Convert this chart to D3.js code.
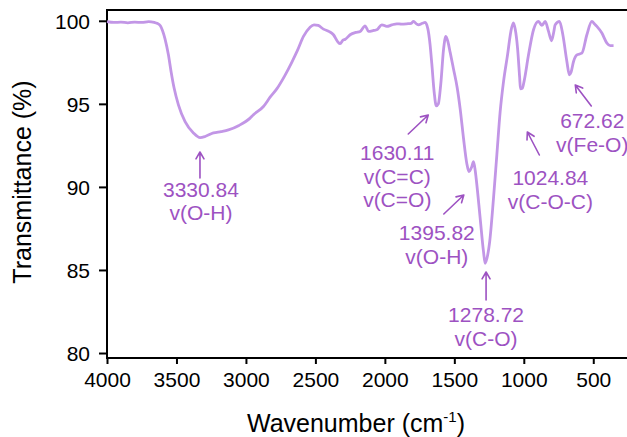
<!DOCTYPE html>
<html>
<head>
<meta charset="utf-8">
<script src="https://cdn.jsdelivr.net/npm/d3@7"></script>
<style>
  html, body { margin: 0; padding: 0; background: #fff; }
  svg { display: block; font-family: "Liberation Sans", Arial, Helvetica, sans-serif; }
</style>
</head>
<body>
<svg id="chart" width="627" height="437"></svg>
<script>
// ---- Data ----
const wavenumbers = [4000,3950,3900,3850,3800,3750,3700,3660,3640,3616,3600,3582,3558,3539,3517,3486,3438,3378,3330,3290,3234,3179,3126,3050,2970,2946,2874,2826,2778,2720,2670,2630,2586,2540,2510,2480,2442,2400,2370,2340,2322,2300,2286,2250,2210,2178,2142,2118,2080,2058,2022,1986,1950,1914,1880,1842,1810,1794,1770,1758,1730,1710,1690,1675,1662,1645,1630,1615,1597,1578,1561,1545,1530,1506,1480,1458,1434,1410,1395,1375,1362,1350,1343,1314,1290,1278,1260,1247,1218,1194,1170,1146,1117,1093,1075,1062,1045,1030,1024,1010,997,966,930,894,870,846,822,800,785,774,743,719,690,672,660,642,618,582,546,510,490,474,438,402,378,354];
const transmittance = [99.95,99.9,99.92,99.88,99.92,99.9,99.95,99.9,99.85,99.7,99.4,98.9,97.95,96.95,95.95,94.94,93.93,93.25,92.97,93.05,93.25,93.33,93.43,93.7,94.14,94.34,94.84,95.4,95.9,96.7,97.5,98.2,99.06,99.6,99.76,99.72,99.5,99.35,99.16,98.75,98.62,98.85,98.88,99.16,99.3,99.36,99.7,99.36,99.42,99.46,99.76,99.66,99.75,99.82,99.8,99.82,99.85,99.96,99.8,99.76,99.85,99.9,99.5,98.6,97.4,95.7,94.88,95.0,96.25,98.25,99.06,98.7,98.1,97.1,96.0,94.7,92.93,91.4,90.92,91.2,91.52,91.0,90.52,88.11,86.1,85.4,85.9,86.6,89.32,91.93,94.54,96.34,97.95,99.36,99.88,99.5,98.36,96.6,95.9,95.95,96.4,97.95,99.46,99.96,99.72,99.96,99.36,98.8,99.3,99.76,99.96,99.16,97.55,96.75,96.9,97.55,97.95,98.05,99.16,99.96,99.8,99.66,99.26,98.66,98.51,98.51];
const xTicks = [4000,3500,3000,2500,2000,1500,1000,500];
const yTicks = [80,85,90,95,100];
const peakPositions = [3330.84,1630.11,1395.82,1278.72,1024.84,672.62];
const peakValues = ["3330.84","1630.11","1395.82","1278.72","1024.84","672.62"];
const peakAssignments = [["v(O-H)"],["v(C=C)","v(C=O)"],["v(O-H)"],["v(C-O)"],["v(C-O-C)"],["v(Fe-O)"]];

// ---- Layout ----
const svg = d3.select("#chart");
const lineColor = "#c296e6";
const textColor = "#9d52c2";

const x = d3.scaleLinear().domain([4000, 250]).range([107, 628]);
const y = d3.scaleLinear().domain([79.7, 100.65]).range([358, 10]);

// frame (top + left + bottom)
svg.append("path")
  .attr("d", `M${x(250)+2},${y(100.65)}H${x(4000)}V${y(79.7)}H${x(250)+2}`)
  .attr("fill", "none").attr("stroke", "#000").attr("stroke-width", 2);

// axes
const xAxis = svg.append("g").attr("transform", `translate(0,${y(79.7)})`)
  .call(d3.axisBottom(x).tickValues(xTicks).tickSize(6).tickPadding(8).tickFormat(d3.format("d")));
const yAxis = svg.append("g").attr("transform", `translate(${x(4000)},0)`)
  .call(d3.axisLeft(y).tickValues(yTicks).tickSize(8).tickPadding(9).tickFormat(d3.format("d")));
[xAxis, yAxis].forEach(g => {
  g.select(".domain").remove();
  g.selectAll(".tick line").attr("stroke", "#000").attr("stroke-width", 2);
  g.selectAll(".tick text").attr("fill", "#000").style("font-size", "21px")
    .style("font-family", "'Liberation Sans', Arial, sans-serif");
});
yAxis.selectAll(".tick text").attr("dy", "0.36em");

// axis titles
svg.append("text")
  .attr("transform", `translate(31,${(y(79.7)+y(100.65))/2 - 2}) rotate(-90)`)
  .attr("text-anchor", "middle").attr("fill", "#000").style("font-size", "25px")
  .text("Transmittance (%)");
const xt = svg.append("text")
  .attr("x", (x(4000) + 605) / 2).attr("y", 432)
  .attr("text-anchor", "middle").attr("fill", "#000").style("font-size", "25px");
xt.append("tspan").text("Wavenumber (cm");
xt.append("tspan").attr("dy", -10).style("font-size", "15px").text("-1");
xt.append("tspan").attr("dy", 10).text(")");

// spectrum line
const pts = wavenumbers.map((w, i) => [w, transmittance[i]]);
svg.append("path")
  .datum(pts)
  .attr("fill", "none")
  .attr("stroke", lineColor)
  .attr("stroke-width", 2.8)
  .attr("stroke-linejoin", "round")
  .attr("d", d3.line().x(d => x(d[0])).y(d => y(d[1])).curve(d3.curveMonotoneX));

// annotations layout (pixel offsets relative to peak x)
const annLayout = [
  {dx: 1,   y0: 196.5, ax: [0, 178, 0, 152]},
  {dx: -39, y0: 160,   ax: [-28, 134, -8, 115]},
  {dx: -32, y0: 240,   ax: [-25, 214, -5, 195]},
  {dx: 1,   y0: 322,   ax: [1, 300, 1, 272]},
  {dx: 30,  y0: 185,   ax: [19, 155, 7, 132]},
  {dx: 23,  y0: 128,   ax: [22, 106, 6, 85]}
];
const lineH = 23.5;
const ann = svg.append("g").attr("fill", textColor).style("font-size", "21px");
peakPositions.forEach((p, i) => {
  const L = annLayout[i];
  const cx = x(p) + L.dx;
  const t = ann.append("text").attr("text-anchor", "middle");
  [peakValues[i]].concat(peakAssignments[i]).forEach((s, j) => {
    t.append("tspan").attr("x", cx).attr("y", L.y0 + j * lineH).text(s);
  });
  const x1 = x(p) + L.ax[0], y1 = L.ax[1], x2 = x(p) + L.ax[2], y2 = L.ax[3];
  const ang = Math.atan2(y2 - y1, x2 - x1);
  const hl = 8, ha = Math.PI / 6;
  const hx1 = x2 - hl * Math.cos(ang - ha), hy1 = y2 - hl * Math.sin(ang - ha);
  const hx2 = x2 - hl * Math.cos(ang + ha), hy2 = y2 - hl * Math.sin(ang + ha);
  svg.append("path")
    .attr("d", `M${x1},${y1}L${x2},${y2}M${hx1},${hy1}L${x2},${y2}L${hx2},${hy2}`)
    .attr("fill", "none").attr("stroke", textColor).attr("stroke-width", 1.6)
    .attr("stroke-linecap", "round").attr("stroke-linejoin", "round");
});
</script>
</body>
</html>
